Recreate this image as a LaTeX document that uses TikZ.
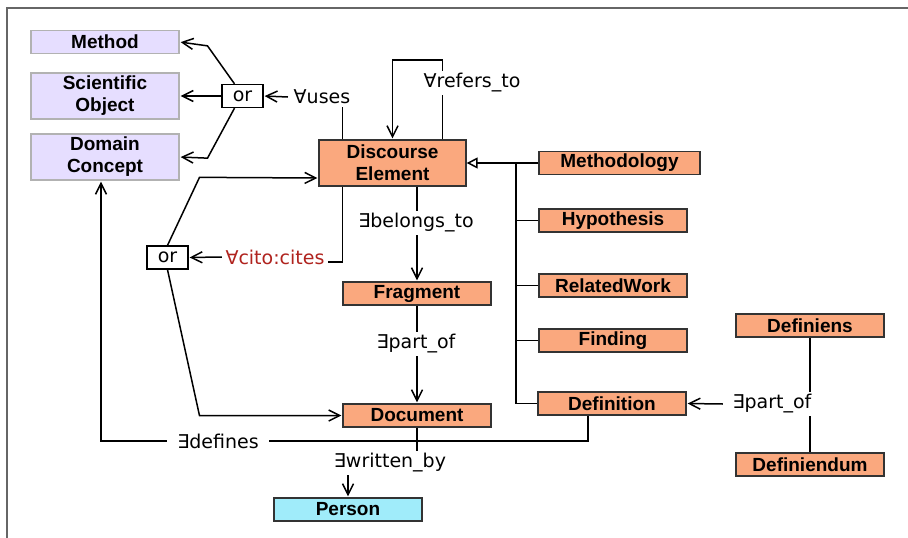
\documentclass[tikz,border=0pt]{standalone}
\usepackage{fontspec}
\setmainfont{Liberation Sans}
\newfontfamily\relfont{DejaVu Sans}
\usetikzlibrary{arrows.meta}
\definecolor{extfill}{RGB}{230,222,255}
\definecolor{clsfill}{RGB}{250,168,126}
\definecolor{perfill}{RGB}{160,236,250}
\definecolor{citered}{RGB}{176,35,30}

\begin{document}
\begin{tikzpicture}[x=1pt,y=-1pt,line width=1.5pt,
  cls/.style={draw=black!80,line width=1.3pt,fill=clsfill,minimum width=148pt,minimum height=23pt,
    inner sep=0pt,align=center,font=\bfseries\fontsize{19}{22}\selectfont},
  ext/.style={cls,fill=extfill,draw=black!30},
  pers/.style={cls,fill=perfill},
  rel/.style={fill=white,inner xsep=5pt,inner ysep=2pt,font=\relfont\fontsize{19}{22}\selectfont},
  orbox/.style={draw,line width=1.3pt,fill=white,minimum width=41pt,minimum height=23pt,inner sep=0pt,
    font=\relfont\fontsize{19}{22}\selectfont},
  arr/.style={-{Straight Barb[length=11pt,width=11pt]},shorten >=1pt}]
\useasboundingbox (0,0) rectangle (908,538);
\draw[black!60,line width=1.2pt] (7,538) -- (7,8) -- (908,8);

\node[ext] (meth) at (105,42) {Method};
\node[ext,minimum height=46pt] (sciobj) at (105,96) {Scientific\\Object};
\node[ext,minimum height=46pt] (domcon) at (105,157) {Domain\\Concept};
\node[orbox] (or1) at (242.5,96) {or};
\node[rel] (uses) at (322,97) {∀uses};
\node[cls,minimum width=147pt,minimum height=46pt] (de) at (392.5,163) {Discourse\\Element};
\node[rel,inner xsep=1pt] (refers) at (472,83) {∀refers\_to};

\node[cls,minimum width=161pt] (mthd) at (619.5,163) {Methodology};
\node[cls] (hyp) at (613,220.5) {Hypothesis};
\node[cls] (rw) at (613,285.5) {RelatedWork};
\node[cls] (fnd) at (613,340.5) {Finding};
\node[cls] (dfn) at (612,403.5) {Definition};
\node[cls] (dfns) at (810,325.5) {Definiens};
\node[cls] (dfnd) at (810,464.5) {Definiendum};
\node[rel,inner xsep=1pt] (partof2) at (772,404) {∃part\_of};

\node[cls] (frag) at (417,293.5) {Fragment};
\node[cls] (doc) at (417,415.5) {Document};
\node[pers] (per) at (348,509.5) {Person};
\node[rel] (belongs) at (416,223) {∃belongs\_to};
\node[rel] (partof1) at (416,344) {∃part\_of};
\node[rel] (wby) at (390,463) {∃written\_by};
\node[rel,inner xsep=10pt] (defines) at (218,441) {∃defines};

\node[orbox] (or2) at (167.5,257.5) {or};
\node[rel,text=citered,inner xsep=3pt] (cites) at (275,257) {∀cito:cites};

\draw[arr] ([xshift=-8pt]or1.north) -- ++(-27,-38) -- (meth.east);
\draw[arr] (or1.west) -- (sciobj.east);
\draw[arr] ([xshift=-8pt]or1.south) -- ++(-27,50) -- (domcon.east);
\draw[arr] (uses.west) -- (or1.east);
\draw ([xshift=24pt]de.north west) -- ([xshift=24pt]de.north west |- uses.south);

\draw ([xshift=-24pt]de.north east) -- ([xshift=-24pt]de.north east |- refers.south);
\draw[arr] ([xshift=-24pt]de.north east |- refers.north) |- (de.north |- 0,60) -- (de.north);

\draw[-{Triangle[open,length=11pt,width=11pt]}] (mthd.west) -- (de.east);
\coordinate (trunk) at (516,163);
\draw (trunk) |- (hyp.west);
\draw (trunk) |- (rw.west);
\draw (trunk) |- (fnd.west);
\draw (trunk) |- (dfn.west);

\draw (dfns.south) -- (dfns.south |- partof2.north);
\draw (dfnd.north |- partof2.south) -- (dfnd.north);
\draw[arr] ([xshift=-8pt]partof2.west) -- (dfn.east);

\draw (frag.north |- de.south) -- (frag.north |- belongs.north);
\draw[arr] (frag.north |- belongs.south) -- (frag.north);
\draw (frag.south) -- (frag.south |- partof1.north);
\draw[arr] (doc.north |- partof1.south) -- (doc.north);
\draw (doc.south) -- (doc.south |- wby.north);
\draw[arr] (per.north |- wby.south) -- (per.north);

\draw ([xshift=-24pt]dfn.south) |- (defines.east);
\draw[arr] (defines.west) -| ([xshift=-4pt]domcon.south);

\draw ([xshift=24pt]de.south west) |- ([yshift=-5pt]cites.east);
\draw[arr] (cites.west) -- (or2.east);
\draw[arr] (or2.north) -- ++(32,-68) -- ([yshift=-15pt]de.west);
\draw[arr] (or2.south) -- ++(32,146) -- (doc.west);
\end{tikzpicture}
\end{document}
